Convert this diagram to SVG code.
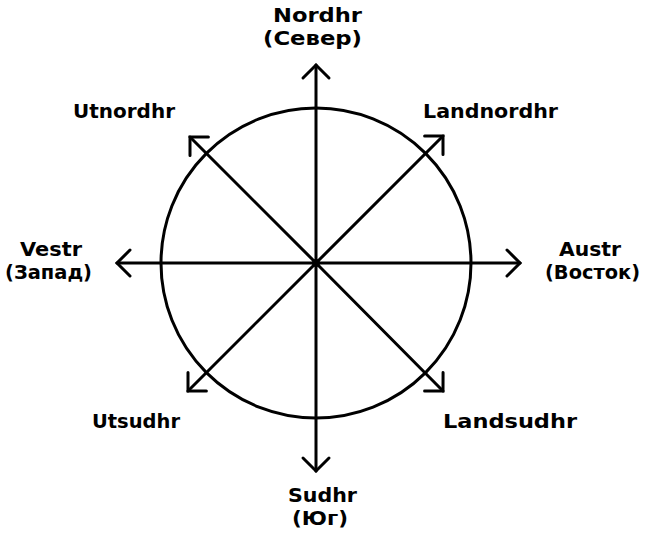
<svg xmlns="http://www.w3.org/2000/svg" width="645" height="538" viewBox="0 0 645 538">
<style>
.ln{stroke:#000;stroke-width:3;fill:none;stroke-linecap:round}
.lb{font-family:"DejaVu Sans","Liberation Sans",sans-serif;font-size:20px;font-weight:bold;fill:#000;text-anchor:middle}
.lb2{font-size:19px}
</style>
<defs>
<marker id="ah" markerUnits="userSpaceOnUse" markerWidth="30" markerHeight="30" refX="0" refY="0" orient="auto" overflow="visible">
<path d="M -13 -13 L 0 0 L -13 13" fill="none" stroke="#000" stroke-width="3" stroke-linecap="round" stroke-linejoin="miter"/>
</marker>
</defs>
<rect width="645" height="538" fill="#fff"/>
<g id="compass-circle"><circle class="ln" cx="316" cy="263" r="155"/></g>
<g id="connectors">
<line class="ln" x1="316" y1="263" x2="316" y2="65" marker-end="url(#ah)"/>
<line class="ln" x1="316" y1="263" x2="316" y2="471" marker-end="url(#ah)"/>
<line class="ln" x1="316" y1="263" x2="117" y2="263" marker-end="url(#ah)"/>
<line class="ln" x1="316" y1="263" x2="520" y2="263" marker-end="url(#ah)"/>
<line class="ln" x1="316" y1="263" x2="443" y2="136" marker-end="url(#ah)"/>
<line class="ln" x1="316" y1="263" x2="190" y2="137" marker-end="url(#ah)"/>
<line class="ln" x1="316" y1="263" x2="443" y2="391" marker-end="url(#ah)"/>
<line class="ln" x1="316" y1="263" x2="188" y2="391" marker-end="url(#ah)"/>
<circle cx="316" cy="263" r="4" fill="#000"/>
</g>
<g id="north"><text class="lb lb2" x="317.5" y="22" textLength="89" lengthAdjust="spacingAndGlyphs">Nordhr</text><text class="lb lb2" x="312.5" y="45" textLength="99" lengthAdjust="spacingAndGlyphs">(Север)</text></g>
<g id="south"><text class="lb lb2" x="322.5" y="502" textLength="69" lengthAdjust="spacingAndGlyphs">Sudhr</text><text class="lb lb2" x="320" y="525" textLength="56" lengthAdjust="spacingAndGlyphs">(Юг)</text></g>
<g id="west"><text class="lb lb2" x="51" y="256" textLength="62" lengthAdjust="spacingAndGlyphs">Vestr</text><text class="lb lb2" x="48.5" y="279" textLength="87" lengthAdjust="spacingAndGlyphs">(Запад)</text></g>
<g id="east"><text class="lb lb2" x="590" y="256" textLength="62" lengthAdjust="spacingAndGlyphs">Austr</text><text class="lb lb2" x="592.5" y="279" textLength="95" lengthAdjust="spacingAndGlyphs">(Восток)</text></g>
<g id="northwest"><text class="lb" x="124" y="118" textLength="102" lengthAdjust="spacingAndGlyphs">Utnordhr</text></g>
<g id="northeast"><text class="lb" x="490.5" y="118" textLength="135" lengthAdjust="spacingAndGlyphs">Landnordhr</text></g>
<g id="southwest"><text class="lb" x="136" y="428" textLength="88" lengthAdjust="spacingAndGlyphs">Utsudhr</text></g>
<g id="southeast"><text class="lb" x="510" y="428" textLength="134" lengthAdjust="spacingAndGlyphs">Landsudhr</text></g>
</svg>
